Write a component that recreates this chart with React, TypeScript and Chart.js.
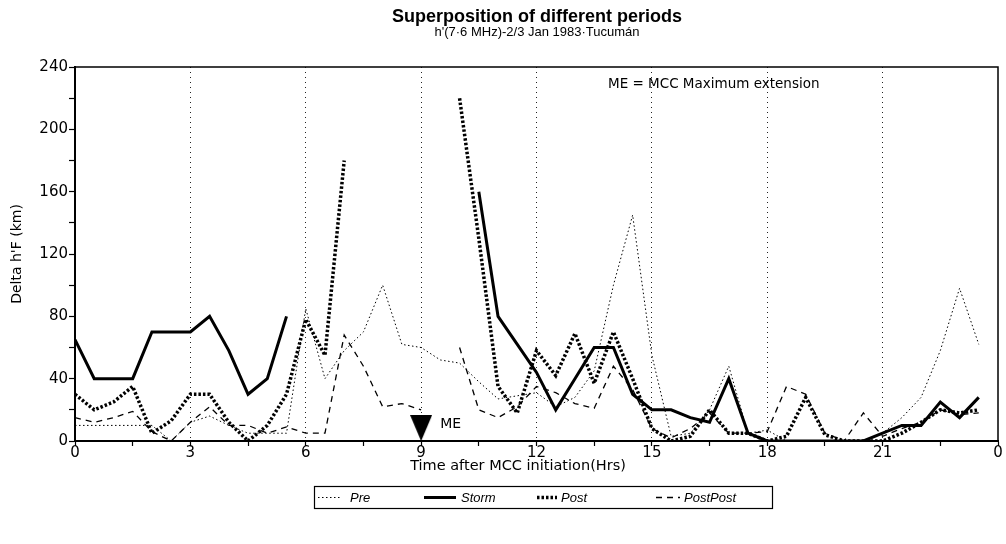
import React, { useEffect, useRef } from 'react';
import { Chart, registerables } from 'chart.js';

Chart.register(...registerables);

// ---------------- data ----------------
const HOURS = [
  0, 0.5, 1, 1.5, 2, 2.5, 3, 3.5, 4, 4.5, 5, 5.5, 6, 6.5, 7, 7.5, 8, 8.5, 9, 9.5,
  10, 10.5, 11, 11.5, 12, 12.5, 13, 13.5, 14, 14.5, 15, 15.5, 16, 16.5, 17, 17.5,
  18, 18.5, 19, 19.5, 20, 20.5, 21, 21.5, 22, 22.5, 23, 23.5,
];

const PRE = [
  10, 10, 10, 10, 10, 0, 12, 16, 10, 5, 5, 5, 85, 40, 58, 70, 100, 62, 60, 52,
  50, 38, 27, 29, 31, 22, 28, 45, 100, 145, 55, 3, 5, 20, 48, 5, 7, 0, 0, 0, 0,
  0, 5, 15, 28, 58, 98, 62,
];

const STORM = [
  65, 40, 40, 40, 70, 70, 70, 80, 58, 30, 40, 80, null, null, null, null, null,
  null, null, null, null, 160, 80, 62, 44, 20, 40, 60, 60, 30, 20, 20, 15, 12,
  40, 5, 0, 0, 0, 0, 0, 0, 5, 10, 10, 25, 15, 28,
];

const POST = [
  30, 20, 25, 35, 5, 13, 30, 30, 12, 0, 10, 30, 78, 55, 180, null, null, null,
  null, null, 220, 130, 35, 18, 58, 42, 69, 37, 70, 40, 8, 0, 3, 20, 5, 5, 0, 3,
  28, 4, 0, 0, 0, 5, 12, 20, 18, 20,
];

const POSTPOST = [
  15, 12, 15, 19, 6, 0, 12, 22, 10, 10, 5, 9, 5, 5, 68, 48, 22, 24, 20, null,
  60, 20, 15, 22, 35, 31, 24, 21, 48, 33, 8, 2, 8, 18, 5, 5, 6, 35, 30, 5, 0,
  18, 3, 8, 12, 20, 17, 18,
];

const SERIES_NAMES = ['Pre', 'Storm', 'Post', 'PostPost'];

const ME_POINT = [{ x: 9, y: 8.3 }];

const X_TICK_VALUES = [0, 3, 6, 9, 12, 15, 18, 21, 24];
const X_TICK_TEXT = ['0', '3', '6', '9', '12', '15', '18', '21', '0'];
const Y_TICK_VALUES = [0, 40, 80, 120, 160, 200, 240];
const Y_TICK_TEXT = ['0', '40', '80', '120', '160', '200', '240'];

const TITLE = 'Superposition of different periods';
const SUBTITLE = "h'(7·6 MHz)-2/3 Jan 1983·Tucumán";
const X_TITLE = 'Time after MCC initiation(Hrs)';
const Y_TITLE = "Delta h'F (km)";
const NOTE = 'ME = MCC Maximum extension';
const ME_LABEL = 'ME';

// ---------------- styles ----------------
const STYLES = [
  { width: 1, dash: [1.5, 2.5] },
  { width: 3, dash: [] as number[] },
  { width: 3.5, dash: [2.5, 2] },
  { width: 1.3, dash: [6, 5] },
];

const SANS = '"DejaVu Sans", "Liberation Sans", sans-serif';
const ARIAL = '"Liberation Sans", Arial, sans-serif';

function makeTriangle(): HTMLCanvasElement {
  const c = document.createElement('canvas');
  c.width = 22;
  c.height = 26;
  const g = c.getContext('2d')!;
  g.fillStyle = '#000';
  g.beginPath();
  g.moveTo(0, 0);
  g.lineTo(22, 0);
  g.lineTo(11, 26);
  g.closePath();
  g.fill();
  return c;
}

const decorPlugin = {
  id: 'decor',
  afterDraw(chart: any) {
    const { ctx, chartArea: a, scales } = chart;
    const xs = scales.x;
    const ys = scales.y;
    ctx.save();
    // frame top and right
    ctx.strokeStyle = '#000';
    ctx.lineWidth = 1.5;
    ctx.setLineDash([]);
    ctx.beginPath();
    ctx.moveTo(a.left, a.top);
    ctx.lineTo(a.right, a.top);
    ctx.lineTo(a.right, a.bottom);
    ctx.stroke();

    // titles
    ctx.fillStyle = '#000';
    ctx.textAlign = 'center';
    ctx.textBaseline = 'middle';
    ctx.font = `bold 18px ${ARIAL}`;
    ctx.fillText(TITLE, 537, 17);
    ctx.font = `13px ${ARIAL}`;
    ctx.fillText(SUBTITLE, 537, 32);

    // x axis title
    ctx.font = `14.5px ${SANS}`;
    ctx.fillText(X_TITLE, 518, 466);

    // ME label next to marker
    ctx.textAlign = 'left';
    ctx.font = `14px ${SANS}`;
    ctx.fillText(ME_LABEL, xs.getPixelForValue(ME_POINT[0].x) + 19, ys.getPixelForValue(0) - 17);

    // note
    ctx.font = `13.5px ${SANS}`;
    ctx.fillText(NOTE, a.left + 533, a.top + 17);

    // legend
    const boxL = 314.5, boxT = 486.5, boxW = 458, boxH = 22;
    ctx.lineWidth = 1.2;
    ctx.strokeRect(boxL, boxT, boxW, boxH);
    const cy = boxT + boxH / 2;
    const samples = [
      [318, 340, 350],
      [424, 456, 461],
      [537, 557, 561],
      [656, 680, 684],
    ];
    ctx.font = `italic 13px ${ARIAL}`;
    samples.forEach((s, i) => {
      ctx.save();
      ctx.lineWidth = STYLES[i].width;
      ctx.setLineDash(STYLES[i].dash);
      ctx.beginPath();
      ctx.moveTo(s[0], cy);
      ctx.lineTo(s[1], cy);
      ctx.stroke();
      ctx.restore();
      ctx.fillText(SERIES_NAMES[i], s[2], cy + 1);
    });
    ctx.restore();
  },
};

export default function App() {
  const ref = useRef<HTMLCanvasElement | null>(null);

  useEffect(() => {
    if (!ref.current) return;
    const seriesData = [PRE, STORM, POST, POSTPOST].map((arr) =>
      HOURS.map((h, i) => ({ x: h, y: arr[i] }))
    );
    const datasets: any[] = seriesData.map((d, i) => ({
      label: SERIES_NAMES[i],
      data: d,
      borderColor: '#000',
      backgroundColor: '#000',
      borderWidth: STYLES[i].width,
      borderDash: STYLES[i].dash,
      pointRadius: 0,
      tension: 0,
      fill: false,
      spanGaps: false,
      borderCapStyle: 'butt',
      borderJoinStyle: 'miter',
    }));
    datasets.push({
      label: 'ME',
      data: ME_POINT,
      showLine: false,
      pointStyle: makeTriangle(),
      pointRadius: 10,
      pointHoverRadius: 10,
      borderColor: '#000',
      backgroundColor: '#000',
    });

    const chart = new Chart(ref.current, {
      type: 'line',
      data: { datasets },
      plugins: [decorPlugin],
      options: {
        animation: false,
        responsive: false,
        events: [],
        layout: { autoPadding: false, padding: { left: 0, top: 67, right: 8, bottom: 0 } },
        plugins: {
          legend: { display: false },
          title: { display: false },
          tooltip: { enabled: false },
        },
        scales: {
          x: {
            type: 'linear',
            min: 0,
            max: 24,
            afterFit: (s: any) => {
              s.height = 103;
              s.paddingLeft = 0;
              s.paddingRight = 0;
            },
            ticks: {
              stepSize: 1.5,
              maxTicksLimit: 100,
              autoSkip: false,
              maxRotation: 0,
              padding: -2,
              color: '#000',
              font: { family: SANS, size: 15 },
              callback: (v: any) => {
                const k = X_TICK_VALUES.indexOf(Number(v));
                return k >= 0 ? X_TICK_TEXT[k] : '';
              },
            },
            grid: {
              drawOnChartArea: true,
              drawTicks: true,
              tickLength: 5,
              tickColor: '#000',
              tickWidth: 1.2,
              lineWidth: 1,
              color: (c: any) => {
                const v = c.tick ? c.tick.value : -1;
                return v % 3 === 0 && v > 0 && v < 24 ? '#222' : 'rgba(0,0,0,0)';
              },
            },
            border: { display: true, color: '#000', width: 2, dash: [1, 4] },
            title: { display: false },
          },
          y: {
            type: 'linear',
            min: 0,
            max: 240,
            afterFit: (s: any) => {
              s.width = 75;
            },
            ticks: {
              stepSize: 20,
              maxTicksLimit: 100,
              autoSkip: false,
              padding: 1,
              color: '#000',
              font: { family: SANS, size: 15 },
              callback: (v: any) => {
                const k = Y_TICK_VALUES.indexOf(Number(v));
                return k >= 0 ? Y_TICK_TEXT[k] : '';
              },
            },
            grid: {
              drawOnChartArea: false,
              drawTicks: true,
              tickLength: 6,
              tickColor: '#000',
              tickWidth: 1.2,
            },
            border: { display: true, color: '#000', width: 2 },
            title: {
              display: true,
              text: Y_TITLE,
              color: '#000',
              font: { family: SANS, size: 14 },
              padding: { top: 8.6, bottom: 0 },
            },
          },
        },
      } as any,
    });
    return () => chart.destroy();
  }, []);

  return (
    <div style={{ position: 'fixed', left: 0, top: 0, width: 1006, height: 544, background: '#fff' }}>
      <canvas ref={ref} width={1006} height={544} style={{ display: 'block' }} />
    </div>
  );
}
